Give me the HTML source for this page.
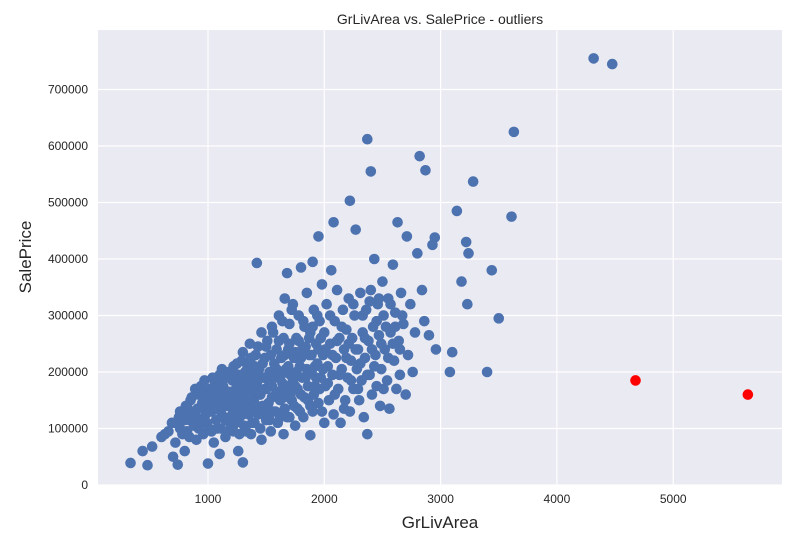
<!DOCTYPE html>
<html><head><meta charset="utf-8"><style>
body{margin:0;background:#fff;font-family:"Liberation Sans",sans-serif}
</style></head><body>
<svg id="chart" width="800" height="550" xmlns="http://www.w3.org/2000/svg" font-family="Liberation Sans, sans-serif">
<rect x="98" y="30" width="684" height="455" fill="#eaeaf2"/>
<g id="grid"></g><g id="ticks"></g><g id="pts"></g>
<text x="440" y="24" text-anchor="middle" font-size="14" fill="#262626">GrLivArea vs. SalePrice - outliers</text>
<text x="440" y="528" text-anchor="middle" font-size="17" fill="#262626">GrLivArea</text>
<text transform="translate(31,257) rotate(-90)" text-anchor="middle" font-size="17" fill="#262626">SalePrice</text>
</svg>
<script>
const xTicks=[1000,2000,3000,4000,5000];
const yTicks=[0,100000,200000,300000,400000,500000,600000,700000];
const outliersX=[4676,5642];
const outliersY=[185000,160000];
// [GrLivArea, SalePrice in thousands]
const pointsRaw="334,39 438,60 480,35 520,68 600,85 630,90 660,95 690,110 700,50 720,75 740,36 750,120 760,100 780,130 800,60 810,140 820,95 840,115 850,150 860,125 880,105 890,170 900,80 910,135 920,160 940,110 950,145 960,90 970,185 980,125 1000,38 1000,155 1010,100 1020,170 1030,130 1040,145 1050,75 1060,180 1070,115 1080,160 1090,135 1100,55 1100,195 1110,100 1120,150 1130,175 1140,120 1150,85 1160,165 1170,140 1180,200 1190,110 1200,150 1210,185 1220,95 1230,130 1240,170 1250,215 1260,60 1260,145 1270,120 1280,190 1290,160 1300,235 1300,40 1310,105 1320,175 1330,140 1340,210 1350,125 1360,250 1370,90 1380,165 1390,195 1400,145 1400,110 1410,230 1420,393 1420,180 1430,125 1440,205 1450,160 1460,270 1460,80 1470,140 1480,190 1490,225 1500,115 1500,170 1510,255 1520,145 1530,200 1540,95 1550,280 1550,175 1560,130 1570,215 1580,160 1590,240 1600,110 1600,190 1610,300 1620,150 1630,225 1640,180 1650,260 1650,90 1660,330 1660,135 1670,205 1680,375 1680,165 1690,240 1700,120 1700,285 1710,195 1720,150 1730,320 1740,225 1750,105 1750,175 1760,260 1770,135 1780,300 1790,210 1800,385 1800,160 1810,240 1820,120 1830,280 1840,190 1850,340 1860,150 1870,230 1880,88 1880,270 1890,200 1900,395 1900,130 1910,310 1920,175 1930,250 1940,215 1950,440 1950,145 1960,290 1970,190 1980,355 1990,230 2000,110 2000,270 2010,175 2020,320 2030,210 2040,150 2050,250 2060,380 2070,195 2080,465 2080,125 2090,290 2100,225 2110,345 2120,170 2130,260 2140,110 2150,205 2160,310 2170,240 2180,150 2190,275 2200,190 2210,330 2220,503 2220,130 2230,220 2240,260 2250,170 2260,300 2270,452 2280,205 2290,240 2300,150 2310,340 2320,185 2330,270 2340,120 2350,225 2360,310 2370,612 2370,90 2380,255 2390,195 2400,555 2400,345 2410,160 2420,280 2430,400 2440,230 2450,175 2460,320 2470,265 2480,140 2490,205 2500,360 2510,300 2520,240 2540,185 2550,330 2560,135 2570,270 2590,390 2600,220 2610,305 2620,170 2630,465 2640,255 2650,195 2660,340 2680,285 2700,160 2710,440 2720,230 2740,320 2760,200 2780,270 2800,410 2820,582 2840,345 2860,290 2870,557 2900,265 2930,425 2950,438 2960,240 3080,200 3100,235 3140,485 3180,360 3220,430 3230,320 3240,410 3280,537 3400,200 3440,380 3500,295 3610,475 3630,625 4316,755 4476,745";
const pointsRaw2="720,110 760,130 780,90 800,115 820,140 840,85 860,155 880,130 900,120 920,100 940,175 960,140 980,160 990,110 1010,130 1030,95 1040,190 1060,140 1070,165 1080,100 1090,180 1110,130 1120,205 1130,155 1150,115 1160,190 1170,95 1180,165 1190,140 1210,125 1220,210 1230,155 1240,110 1250,180 1260,195 1270,90 1280,140 1290,220 1300,125 1310,155 1320,200 1330,95 1340,165 1350,185 1360,130 1370,225 1380,110 1390,150 1400,210 1410,175 1420,130 1430,245 1440,160 1450,100 1460,190 1470,215 1480,125 1490,170 1500,245 1510,140 1520,185 1530,115 1540,230 1550,155 1560,270 1570,190 1580,130 1590,205 1600,165 1610,255 1620,120 1630,195 1640,290 1650,155 1660,230 1670,175 1680,120 1690,210 1700,250 1710,160 1720,310 1730,185 1740,140 1750,235 1760,200 1770,170 1780,255 1790,130 1800,225 1810,190 1820,290 1830,155 1840,245 1850,205 1860,175 1870,260 1880,140 1890,230 1900,280 1910,160 1920,210 1930,190 1940,300 1950,240 1960,170 1970,260 1980,130 1990,205 2010,240 2030,180 2050,300 2070,230 2090,160 2110,255 2130,195 2150,280 2170,135 2190,225 2210,250 2230,185 2250,320 2270,240 2290,170 2310,215 2330,300 2350,260 2370,195 2390,325 2410,240 2430,210 2450,290 2470,330 2490,250 2510,170 2530,280 2550,225 2570,320 2590,250 2610,280 2650,240 2670,300";
const points=(pointsRaw+" "+pointsRaw2).split(" ").map(s=>s.split(",").map(Number));
const X=v=>91.7+v*0.1163;
const Y=v=>485-v*0.000565;
const ns="http://www.w3.org/2000/svg";
function mk(t,a,p){const e=document.createElementNS(ns,t);for(const k in a)e.setAttribute(k,a[k]);p.appendChild(e);return e;}
const grid=document.getElementById('grid'),ticks=document.getElementById('ticks'),pts=document.getElementById('pts');
xTicks.forEach(v=>{
 const l=mk('line',{x1:X(v),x2:X(v),y1:30,y2:485,stroke:'#fff','stroke-width':1.2},grid);
 
 
 const t=mk('text',{x:X(v),y:503,'text-anchor':'middle','font-size':12,fill:'#262626'},ticks);
 t.textContent=v;
 
 
});
yTicks.forEach(v=>{
 const l=mk('line',{x1:98,x2:782,y1:Y(v),y2:Y(v),stroke:'#fff','stroke-width':1.2},grid);
 
 
 const t=mk('text',{x:88,y:Y(v)+4,'text-anchor':'end','font-size':12,fill:'#262626'},ticks);
 t.textContent=v;
 
 
});
points.forEach(p=>{
 const c=mk('circle',{cx:X(p[0]),cy:Y(p[1]*1000),r:5.3,fill:'#4c72b0'},pts);
 
 
});
outliersX.forEach((x,i)=>{
 const c=mk('circle',{cx:X(x),cy:Y(outliersY[i]),r:5.3,fill:'#ff0000'},pts);
 
 
});
</script>
</body></html>
